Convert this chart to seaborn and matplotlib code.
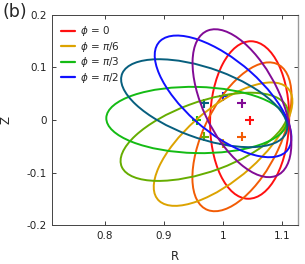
import matplotlib
matplotlib.use("Agg")
import matplotlib.pyplot as plt
from matplotlib.patches import Ellipse
from matplotlib.lines import Line2D
import seaborn as sns
import pandas as pd

# Cross-sections at toroidal angles phi = 0, pi/12, ..., 7pi/12
names = ["0", "pi/12", "pi/6", "pi/4", "pi/3", "5pi/12", "pi/2", "7pi/12"]
colors = ["#ff1010", "#f25c05", "#dca300", "#66ad00", "#14bb14", "#075f7e", "#1010ff", "#820b96"]
# ellipse centre (R, Z), full width / height along own axes, tilt angle (deg)
center_R = [1.045, 1.032, 1.000, 0.968, 0.955, 0.968, 1.000, 1.032]
center_Z = [0.000, -0.032, -0.046, -0.032, 0.000, 0.032, 0.045, 0.032]
width = [0.300, 0.302, 0.306, 0.302, 0.306, 0.300, 0.300, 0.300]
height = [0.134, 0.132, 0.130, 0.132, 0.126, 0.132, 0.132, 0.132]
tilt = [89.0, 67.5, 45.0, 22.5, -1.5, -22.5, -45.0, -67.5]

# magnetic axis markers
axis_R = [1.045, 1.032, 1.000, 0.968, 0.955, 0.968, 1.000, 1.032]
axis_Z = [0.000, -0.032, -0.045, -0.032, 0.000, 0.032, 0.045, 0.032]

legend_labels = [r"$\phi$ = 0", r"$\phi$ = $\pi$/6", r"$\phi$ = $\pi$/3", r"$\phi$ = $\pi$/2"]
legend_idx = [0, 2, 4, 6]

xticks = [0.8, 0.9, 1.0, 1.1]
xticklabels = ["0.8", "0.9", "1", "1.1"]
yticks = [-0.2, -0.1, 0.0, 0.1, 0.2]
yticklabels = ["-0.2", "-0.1", "0", "0.1", "0.2"]

sns.set_style("white")
plt.rcParams["font.family"] = ["DejaVu Sans"]
plt.rcParams["mathtext.fontset"] = "dejavusans"

fig = plt.figure(figsize=(3.05, 2.64), dpi=100)
ax = fig.add_axes([0.1705, 0.1477, 0.8065, 0.7955])

df = pd.DataFrame({"R": axis_R, "Z": axis_Z, "name": names})
sns.scatterplot(data=df, x="R", y="Z", hue="name", palette=colors, marker="+",
                s=42, linewidth=1.5, legend=False, ax=ax, zorder=1)

for i in range(len(names)):
    e = Ellipse((center_R[i], center_Z[i]), width[i], height[i], angle=tilt[i],
                fill=False, edgecolor=colors[i], linewidth=1.4, zorder=2)
    ax.add_patch(e)

ax.set_xlim(0.71, 1.127)
ax.set_ylim(-0.2, 0.2)
ax.set_xticks(xticks)
ax.set_xticklabels(xticklabels)
ax.set_yticks(yticks)
ax.set_yticklabels(yticklabels)
ax.tick_params(direction="in", length=3, width=0.6, labelsize=7.5, colors="#222222",
               top=True, right=True, bottom=True, left=True, pad=4)
for s in ax.spines.values():
    s.set_color("#444444")
    s.set_linewidth(0.7)
ax.spines["right"].set_color("#999999")
ax.spines["right"].set_linewidth(1.0)
ax.set_xlabel("R", fontsize=8.5, labelpad=7)
ax.set_ylabel("Z", fontsize=8.5, labelpad=10)

handles = [Line2D([0], [0], color=colors[i], lw=1.6) for i in legend_idx]
ax.legend(handles, legend_labels, loc="upper left", frameon=False, fontsize=7.5,
          handlelength=1.3, handletextpad=0.5, labelspacing=0.15,
          borderaxespad=0.5)

fig.text(0.008, 0.99, "(b)", fontsize=12.5, ha="left", va="top")

fig.savefig("out.png", dpi=100)
